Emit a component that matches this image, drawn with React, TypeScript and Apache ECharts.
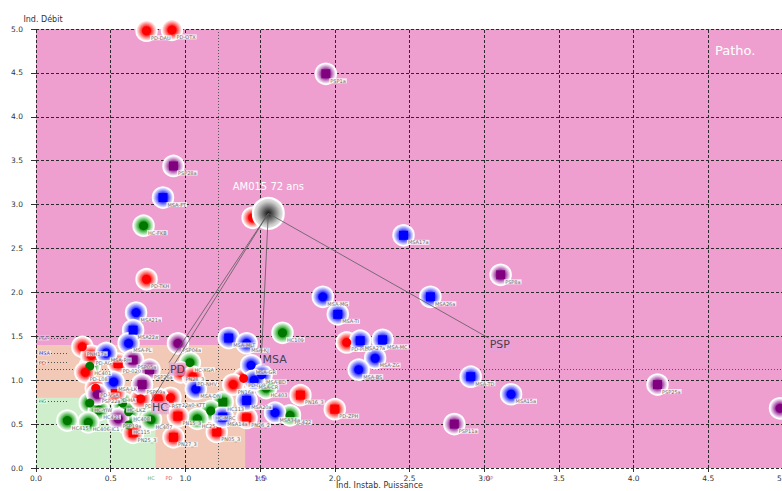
import React, { useEffect, useRef } from "react";
import * as echarts from "echarts";

const FONT = "DejaVu Sans";

const xTicks = [0, 0.5, 1, 1.5, 2, 2.5, 3, 3.5, 4, 4.5, 5];
const yTicks = [0, 0.5, 1, 1.5, 2, 2.5, 3, 3.5, 4, 4.5, 5];

type P = [string, number, number, "c" | "s"];

const hcPoints: P[] = [
  ["HC-FKB", 0.72, 2.76, "c"],
  ["HC109", 1.65, 1.54, "c"],
  ["HC-XGA", 1.03, 1.2, "c"],
  ["HC401", 0.36, 1.16, "c"],
  ["HC403", 1.54, 0.91, "c"],
  ["HC113", 1.25, 0.75, "s"],
  ["HC-YIW", 0.36, 0.74, "c"],
  ["HC-LKZ", 0.58, 0.74, "c"],
  ["HC421", 0.42, 0.66, "c"],
  ["HC-MRC", 1.17, 0.65, "c"],
  ["HC408", 0.62, 0.64, "c"],
  ["HC422", 1.7, 0.6, "c"],
  ["HC25", 1.08, 0.56, "c"],
  ["HC407", 0.77, 0.55, "c"],
  ["HC415", 0.21, 0.54, "c"],
  ["HC406-IC1", 0.35, 0.52, "c"],
  ["HC115", 0.62, 0.49, "c"],
];

const pdPoints: P[] = [
  ["PD-DAU", 0.74, 4.98, "c"],
  ["PD-OTX", 0.91, 4.99, "c"],
  ["", 1.45, 2.85, "c"],
  ["PD-TKH", 0.74, 2.15, "c"],
  ["PD-PKM", 2.08, 1.43, "c"],
  ["PNH17a", 0.31, 1.38, "c"],
  ["PD-AG", 0.37, 1.28, "c"],
  ["PD-020", 0.55, 1.19, "s"],
  ["PN28_3", 0.97, 1.09, "c"],
  ["PD-L08", 0.33, 1.09, "c"],
  ["PD-NHV", 1.05, 1.04, "c"],
  ["PD-DXC", 1.39, 1.02, "c"],
  ["PN16a", 1.32, 0.95, "c"],
  ["PD-VSA", 0.4, 0.91, "c"],
  ["PD-HA", 0.53, 0.85, "s"],
  ["PN16_3", 1.77, 0.83, "s"],
  ["PN22a0-KTT", 0.9, 0.8, "c"],
  ["PD-RST", 0.82, 0.79, "c"],
  ["PD-HVL", 0.7, 0.79, "c"],
  ["PD-ZPH", 2.0, 0.67, "s"],
  ["PN15_3", 0.95, 0.59, "s"],
  ["PN26_2", 1.41, 0.57, "s"],
  ["PN05_3", 1.21, 0.41, "s"],
  ["PN25_3", 0.65, 0.4, "s"],
  ["PN27_3", 0.92, 0.35, "s"],
];

const msaPoints: P[] = [
  ["MSA-FT", 0.85, 3.08, "s"],
  ["MSA17a", 2.46, 2.65, "s"],
  ["MSA-MG", 1.92, 1.95, "c"],
  ["MSA26a", 2.64, 1.95, "s"],
  ["MSA21a", 0.67, 1.77, "c"],
  ["MSA-TI", 2.02, 1.75, "s"],
  ["MSA22a", 0.65, 1.57, "s"],
  ["MSA-MLT", 1.29, 1.48, "s"],
  ["MSA27a", 2.17, 1.45, "s"],
  ["MSA-MC", 2.32, 1.46, "s"],
  ["MSA-PL", 0.62, 1.42, "c"],
  ["MSA-KJ", 1.41, 1.42, "c"],
  ["MSA-RH", 0.47, 1.31, "c"],
  ["MSA-ZG", 2.27, 1.25, "c"],
  ["MSA-GR", 1.44, 1.17, "c"],
  ["MSA-BS", 2.16, 1.12, "c"],
  ["MSA-BD", 1.51, 1.06, "c"],
  ["MSA-TD", 2.91, 1.04, "s"],
  ["MSA-CR", 1.46, 1.0, "c"],
  ["MSA-LK", 0.52, 0.98, "c"],
  ["MSA-DN", 1.07, 0.9, "c"],
  ["MSA15a", 3.18, 0.84, "c"],
  ["MSA20a", 1.41, 0.77, "s"],
  ["MSA34a", 1.6, 0.63, "c"],
  ["MSA14a", 1.25, 0.58, "s"],
];

const pspPoints: P[] = [
  ["PSP1a", 1.94, 4.49, "s"],
  ["PSP28a", 0.92, 3.44, "s"],
  ["PSP8a", 3.11, 2.2, "s"],
  ["PSP04a", 0.95, 1.42, "c"],
  ["PSP05a", 0.65, 1.23, "s"],
  ["PSP26a", 0.76, 1.12, "s"],
  ["PSP09a", 0.71, 0.95, "s"],
  ["PSP22a", 0.41, 0.84, "c"],
  ["PSP19a", 0.55, 0.56, "c"],
  ["PSP11a", 2.8, 0.5, "s"],
  ["PSP25a", 4.16, 0.95, "s"],
  ["PSP3a", 4.98, 0.68, "c"],
];

const groupNames = ["HC", "PD", "MSA", "PSP"];
const groupPoints = [hcPoints, pdPoints, msaPoints, pspPoints];
const groupCentroids: [number, number][] = [
  [0.77, 0.76],
  [0.89, 1.2],
  [1.51, 1.31],
  [3.03, 1.48],
];
const axisMarkTop = [0.34, 0.24, 0.55, 0.38];
const axisMarkBottom = -0.08;
const sideMarkEnd = 0.21;

const patientName = "AM015 72 ans";
const patientX = 1.555;
const patientY = 2.9;

const zoneNames = ["Patho.", "Intermédiaire", "Normal"];
const zoneMax: [number, number][] = [
  [5, 5],
  [1.4, 1.4],
  [0.8, 0.8],
];
const thresholdX = 1.22;
const thresholdY = 1.13;

// styles
const zoneColors = ["#ee9fd0", "#f1c9b6", "#cfeecb"];
const groupStyle = [
  { core: "#007800", mid: "#30a830", pale: "#c2eac2", text: "#2a9a2a" },
  { core: "#ff0000", mid: "#ff3434", pale: "#ffc8c8", text: "#e02020" },
  { core: "#0000ff", mid: "#3c3cff", pale: "#c8c8ff", text: "#2a2aee" },
  { core: "#800080", mid: "#9c3c9c", pale: "#e8c8e8", text: "#9a3a9a" },
];

function halo(s: { core: string; mid: string; pale: string }) {
  return new echarts.graphic.RadialGradient(0.5, 0.5, 0.5, [
    { offset: 0, color: s.core },
    { offset: 0.45, color: s.mid },
    { offset: 0.82, color: s.pale },
    { offset: 1, color: "#ffffff" },
  ]);
}

function buildOption() {
  const gridLines: any[] = [
    ...xTicks.map((v) => [{ coord: [v, 0] }, { coord: [v, 5] }]),
    ...yTicks.map((v) => [{ coord: [0, v] }, { coord: [5, v] }]),
  ];
  const dotted = { color: "#555", type: [1, 2], width: 1 };
  const thresholdLines: any[] = [
    [{ coord: [thresholdX, 0], lineStyle: dotted }, { coord: [thresholdX, 5] }],
    [{ coord: [0, thresholdY], lineStyle: dotted }, { coord: [5, thresholdY] }],
  ];
  const markerLines: any[] = [];
  groupCentroids.forEach((c, i) => {
    markerLines.push([
      { coord: [c[0], axisMarkTop[i]], lineStyle: { color: groupStyle[i].text, type: "solid", width: 1 } },
      { coord: [c[0], axisMarkBottom] },
    ]);
    markerLines.push([
      { coord: [0, c[1]], lineStyle: dotted },
      { coord: [sideMarkEnd, c[1]] },
    ]);
  });

  const series: any[] = [
    {
      type: "scatter",
      data: [[0, 0]],
      symbolSize: 0,
      silent: true,
      z: 1,
      markArea: {
        silent: true,
        label: { show: false },
        data: zoneMax.map((m, i) => [
          { name: zoneNames[i], coord: [0, 0], itemStyle: { color: zoneColors[i], opacity: 1 } },
          { coord: m },
        ]),
      },
      markLine: {
        silent: true,
        symbol: ["none", "none"],
        label: { show: false },
        lineStyle: { color: "#2a2a2a", type: [3, 2], width: 1 },
        data: [...gridLines, ...thresholdLines, ...markerLines],
      },
    },
  ];

  groupPoints.forEach((pts, i) => {
    series.push({
      type: "scatter",
      name: groupNames[i] + "-halo",
      silent: true,
      z: 10,
      symbol: "circle",
      symbolSize: 21,
      itemStyle: {
        color: halo(groupStyle[i]),
        borderColor: "rgba(255,255,255,0.95)",
        borderWidth: 1.5,
        opacity: 1,
      },
      data: pts.map((p) => ({ name: p[0], value: [p[1], p[2]] })),
    });
  });
  groupPoints.forEach((pts, i) => {
    series.push({
      type: "scatter",
      name: groupNames[i],
      silent: true,
      z: 11,
      itemStyle: { color: groupStyle[i].core, opacity: 1 },
      label: {
        show: true,
        position: "right",
        distance: 0,
        offset: [-1, 7],
        formatter: "{b}",
        fontSize: 5,
        fontFamily: FONT,
        color: "#6a6a6a",
        backgroundColor: "rgba(255,255,255,0.78)",
        padding: [0, 1],
      },
      data: pts.map((p) => ({
        name: p[0],
        value: [p[1], p[2]],
        symbol: p[3] === "s" ? "rect" : "circle",
        symbolSize: 9,
        label: p[0] ? undefined : { show: false },
      })),
    });
  });

  series.push({
    type: "scatter",
    name: "patient",
    silent: true,
    z: 12,
    symbol: "circle",
    symbolSize: 31,
    itemStyle: {
      color: new echarts.graphic.RadialGradient(0.5, 0.5, 0.5, [
        { offset: 0, color: "#111111" },
        { offset: 0.35, color: "#666666" },
        { offset: 0.75, color: "#c8c8c8" },
        { offset: 1, color: "#efefef" },
      ]),
      borderColor: "#ffffff",
      borderWidth: 2,
      opacity: 1,
    },
    label: {
      show: true,
      position: "top",
      distance: 5,
      formatter: "{b}",
      color: "#ffffff",
      fontSize: 10,
      fontFamily: FONT,
    },
    data: [{ name: patientName, value: [patientX, patientY] }],
    markLine: {
      silent: true,
      z: 13,
      symbol: ["none", "none"],
      label: { show: false },
      lineStyle: { color: "#5a5a5a", type: "solid", width: 0.8 },
      data: groupCentroids.map((c) => [{ coord: [patientX, patientY] }, { coord: c }]),
    },
  });

  // centroid labels
  series.push({
    type: "scatter",
    silent: true,
    z: 14,
    symbolSize: 0,
    itemStyle: { color: "rgba(0,0,0,0)" },
    label: {
      show: true,
      position: [0, 0],
      align: "left",
      verticalAlign: "top",
      formatter: "{b}",
      fontSize: 11,
      fontFamily: FONT,
      color: "#222",
      backgroundColor: "rgba(228,160,218,0.85)",
      padding: [1, 1],
    },
    data: groupNames.map((n, i) => ({ name: n, value: groupCentroids[i] })),
  });

  // left side labels
  series.push({
    type: "scatter",
    silent: true,
    clip: false,
    z: 14,
    symbolSize: 0,
    itemStyle: { color: "rgba(0,0,0,0)" },
    data: groupNames.map((n, i) => ({
      name: n,
      value: [0, groupCentroids[i][1]],
      label: {
        show: true,
        position: "right",
        distance: 2,
        formatter: "{b}",
        fontSize: 5,
        fontFamily: FONT,
        color: groupStyle[i].text,
        backgroundColor: "rgba(255,255,255,0.55)",
        padding: [0, 1],
      },
    })),
  });

  // bottom labels
  series.push({
    type: "scatter",
    silent: true,
    clip: false,
    z: 14,
    symbolSize: 0,
    itemStyle: { color: "rgba(0,0,0,0)" },
    data: groupNames.map((n, i) => ({
      name: n,
      value: [groupCentroids[i][0], axisMarkBottom],
      label: {
        show: true,
        position: "bottom",
        distance: 0,
        formatter: "{b}",
        fontSize: 5,
        fontFamily: FONT,
        color: groupStyle[i].text,
      },
    })),
  });

  return {
    animation: false,
    textStyle: { fontFamily: FONT },
    grid: { left: 36, right: -1, top: 29, bottom: 23, containLabel: false, outerBoundsMode: "none" },
    xAxis: {
      type: "value",
      min: 0,
      max: 5,
      interval: 0.5,
      name: "Ind. Instab. Puissance",
      nameLocation: "middle",
      nameGap: 13,
      nameMoveOverlap: false,
      nameTextStyle: { fontSize: 8, color: "#333", fontFamily: FONT, padding: [0, 60, 0, 0] },
      axisLine: { show: false },
      axisTick: { show: true, length: 4, lineStyle: { color: "#333" } },
      splitLine: { show: false },
      axisLabel: {
        fontSize: 7.5,
        color: "#333",
        margin: 6,
        fontFamily: FONT,
        formatter: (v: number) => v.toFixed(1),
      },
    },
    yAxis: {
      type: "value",
      min: 0,
      max: 5,
      interval: 0.5,
      name: "Ind. Débit",
      nameLocation: "end",
      nameGap: 6,
      nameMoveOverlap: false,
      nameTextStyle: { fontSize: 8, color: "#333", fontFamily: FONT, align: "center", padding: [0, 0, 0, 14] },
      axisLine: { show: false },
      axisTick: { show: true, length: 5, lineStyle: { color: "#333" } },
      splitLine: { show: false },
      axisLabel: {
        fontSize: 7.5,
        color: "#333",
        margin: 13,
        fontFamily: FONT,
        formatter: (v: number) => v.toFixed(1),
      },
    },
    graphic: [
      {
        type: "text",
        left: 715,
        top: 44,
        silent: true,
        z: 20,
        style: { text: zoneNames[0], fill: "#ffffff", font: `13px "${FONT}"` },
      },
    ],
    series,
  };
}

export default function App() {
  const ref = useRef<HTMLDivElement>(null);
  useEffect(() => {
    if (!ref.current) return;
    const chart = echarts.init(ref.current, null, { renderer: "svg" });
    chart.setOption(buildOption() as any);
    return () => chart.dispose();
  }, []);
  return (
    <div
      ref={ref}
      style={{ position: "absolute", left: 0, top: 0, width: 782, height: 491, background: "#fff" }}
    />
  );
}
